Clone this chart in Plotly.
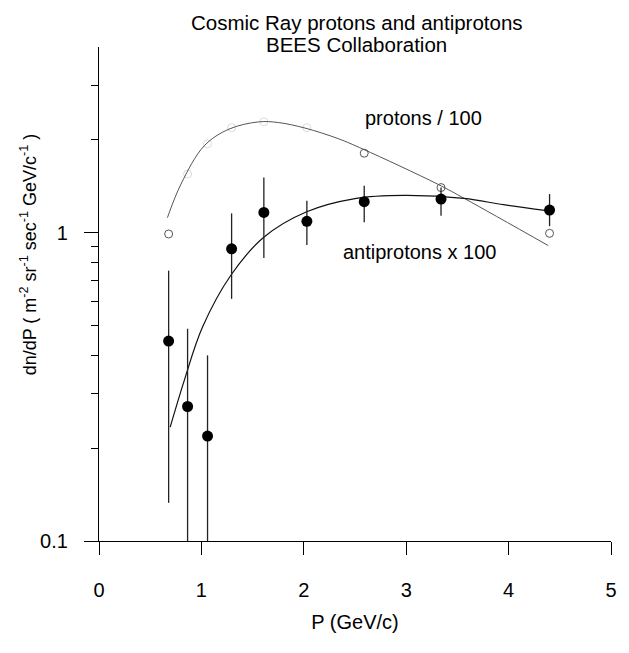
import numpy as np
import plotly.graph_objects as go

# Momentum bins (GeV/c)
momentum = [0.68, 0.865, 1.06, 1.295, 1.61, 2.03, 2.59, 3.34, 4.40]

# Antiproton flux x 100, with upper / lower ends of the error bars
pbar_flux = [0.445, 0.273, 0.219, 0.886, 1.163, 1.088, 1.26, 1.285, 1.184]
pbar_hi = [0.753, 0.488, 0.400, 1.155, 1.51, 1.27, 1.42, 1.40, 1.334]
pbar_lo = [0.133, 0.08, 0.08, 0.61, 0.827, 0.912, 1.08, 1.135, 1.05]

# Proton flux / 100
proton_flux = [0.99, 1.55, 1.94, 2.19, 2.29, 2.19, 1.81, 1.40, 0.995]

# Fitted spectrum shapes
p_fit_x = [0.668, 0.801, 1.027, 1.269, 1.56, 1.754, 2.013, 2.335, 2.578, 3.304, 3.579, 4.387]
p_fit_y = [1.118, 1.438, 1.912, 2.166, 2.287, 2.275, 2.183, 2.018, 1.866, 1.438, 1.285, 0.908]
pbar_fit_x = [0.695, 0.833, 1.011, 1.286, 1.609, 2.028, 2.50, 2.98, 3.563, 3.951, 4.37]
pbar_fit_y = [0.234, 0.332, 0.494, 0.726, 0.966, 1.169, 1.290, 1.320, 1.291, 1.232, 1.178]

y_ticks = [0.1, 1]
y_ticktext = ["0.1", "1"]
y_minor = [0.2, 0.3, 0.4, 0.5, 0.6, 0.7, 0.8, 0.9, 2, 3]
x_ticks = [0, 1, 2, 3, 4, 5]

FONT = "Liberation Sans, Arial, Helvetica, sans-serif"

err_plus = list(np.array(pbar_hi) - np.array(pbar_flux))
err_minus = list(np.array(pbar_flux) - np.array(pbar_lo))

fig = go.Figure()

fig.add_trace(go.Scatter(
    x=p_fit_x, y=p_fit_y, mode="lines", line_shape="spline",
    line=dict(color="#555555", width=1), hoverinfo="skip", showlegend=False))

fig.add_trace(go.Scatter(
    x=pbar_fit_x, y=pbar_fit_y, mode="lines", line_shape="spline",
    line=dict(color="#111111", width=1.2, smoothing=1.0), hoverinfo="skip",
    showlegend=False))

fig.add_trace(go.Scatter(
    x=momentum, y=proton_flux, mode="markers",
    marker=dict(symbol="circle-open", size=8, color="#555555",
                opacity=[1, 0.2, 0.2, 0.2, 0.2, 0.2, 1, 1, 1],
                line=dict(width=1)),
    showlegend=False))

fig.add_trace(go.Scatter(
    x=momentum, y=pbar_flux, mode="markers",
    marker=dict(symbol="circle", size=11, color="black"),
    error_y=dict(type="data", symmetric=False, array=err_plus,
                 arrayminus=err_minus, color="#222222", thickness=1.3, width=0),
    showlegend=False))

fig.add_annotation(x=3.17, y=np.log10(2.36), text="protons / 100", showarrow=False,
                   font=dict(family=FONT, size=20, color="black"))
fig.add_annotation(x=3.125, y=np.log10(0.864), text="antiprotons x 100", showarrow=False,
                   font=dict(family=FONT, size=20, color="black"))

# Two-line heading
fig.add_annotation(xref="paper", yref="paper", x=0.503, y=1.049,
                   text="Cosmic Ray protons and antiprotons", showarrow=False,
                   xanchor="center", yanchor="middle",
                   font=dict(family=FONT, size=20.5, color="black"))
fig.add_annotation(xref="paper", yref="paper", x=0.503, y=1.005,
                   text="BEES Collaboration", showarrow=False,
                   xanchor="center", yanchor="middle",
                   font=dict(family=FONT, size=20.5, color="black"))

# Vertical axis title
fig.add_annotation(xref="paper", yref="paper", x=-0.136, y=0.581,
                   text="dn/dP ( m<sup>-2</sup> sr<sup>-1</sup> sec<sup>-1</sup> GeV/c<sup>-1</sup> )",
                   textangle=-90, showarrow=False, xanchor="center", yanchor="middle",
                   font=dict(family=FONT, size=18, color="black"))

fig.update_layout(
    width=629, height=653,
    margin=dict(l=99, r=14, t=47, b=112),
    paper_bgcolor="white", plot_bgcolor="white",
    font=dict(family=FONT, color="black"),
    xaxis=dict(
        range=[0, 5], tickvals=x_ticks, ticks="outside", ticklen=13, tickwidth=1.2,
        tickcolor="black", showline=True, linecolor="black", linewidth=1.2,
        showgrid=False, zeroline=False, tickfont=dict(size=20),
        ticklabelstandoff=18,
        title=dict(text="P (GeV/c)", font=dict(size=20), standoff=14),
    ),
    yaxis=dict(
        type="log", range=[-1, np.log10(4)], tickvals=y_ticks, ticktext=y_ticktext,
        ticks="outside", ticklen=14, tickwidth=1.2, tickcolor="black",
        showline=True, linecolor="black", linewidth=1.2, showgrid=False, zeroline=False,
        tickfont=dict(size=20), ticklabelstandoff=12,
        minor=dict(tickvals=y_minor, ticks="outside", ticklen=7, tickcolor="black",
                   tickwidth=1, showgrid=False),
    ),
)

fig.write_html("out.html")
